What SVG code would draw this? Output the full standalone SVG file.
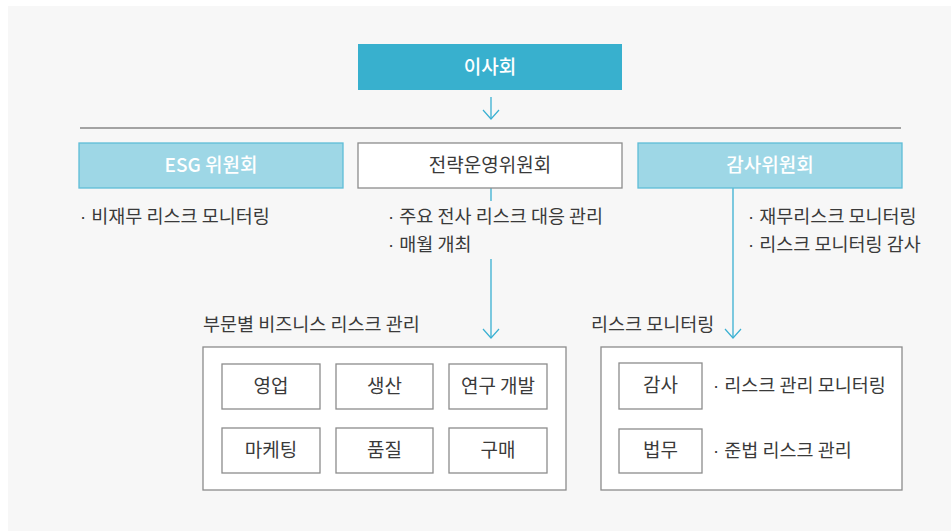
<svg xmlns="http://www.w3.org/2000/svg" width="951" height="531" viewBox="0 0 951 531">
<style>
text{font-family:"Noto Sans CJK KR","Noto Sans",sans-serif;fill:#3a3a3a;font-size:18.5px}
.c{text-anchor:middle;font-size:19px}
.w{fill:#fff;font-weight:500}
.d{font-family:"Liberation Sans",sans-serif}
.box{fill:#fff;stroke:#8c8c8c;stroke-width:1.3}
.blue{fill:#9ed7e6;stroke:#5fbdd8;stroke-width:1.3}
.ln{stroke:#3ab0d2;stroke-width:1.3;fill:none}
</style>
<defs>
<marker id="ah" markerWidth="12" markerHeight="18" refX="10" refY="9" orient="auto" markerUnits="userSpaceOnUse" viewBox="0 0 12 18">
<path d="M1,1 L10,9 L1,17" fill="none" stroke="#3ab0d2" stroke-width="1.2"/>
</marker>
</defs>
<rect x="8" y="6" width="943" height="525" fill="#f7f7f7"/>
<g id="connectors">
<line class="ln" x1="491" y1="97" x2="491" y2="119" marker-end="url(#ah)"/>
<line x1="80" y1="128" x2="901" y2="128" stroke="#a3a3a3" stroke-width="2"/>
<line class="ln" x1="491" y1="188" x2="491" y2="201"/>
<line class="ln" x1="491" y1="259" x2="491" y2="338" marker-end="url(#ah)"/>
<line class="ln" x1="733" y1="188" x2="733" y2="338" marker-end="url(#ah)"/>
</g>
<g id="board">
<rect x="358" y="44" width="264" height="46" fill="#38b0ce"/>
<text class="c w" x="490" y="74">이사회</text>
</g>
<g id="esg">
<rect class="blue" x="79" y="143" width="264" height="45"/>
<text class="c w" x="211" y="172">ESG 위원회</text>
<text x="80" y="223"><tspan class="d">· </tspan>비재무 리스크 모니터링</text>
</g>
<g id="strategy">
<rect class="box" x="358" y="143" width="264" height="45"/>
<text class="c" x="490" y="172">전략운영위원회</text>
<text x="388" y="223"><tspan class="d">· </tspan>주요 전사 리스크 대응 관리</text>
<text x="388" y="251"><tspan class="d">· </tspan>매월 개최</text>
</g>
<g id="audit">
<rect class="blue" x="638" y="143" width="264" height="45"/>
<text class="c w" x="770" y="172">감사위원회</text>
<text x="748" y="223"><tspan class="d">· </tspan>재무리스크 모니터링</text>
<text x="748" y="251"><tspan class="d">· </tspan>리스크 모니터링 감사</text>
</g>
<g id="business">
<text x="203" y="331">부문별 비즈니스 리스크 관리</text>
<rect class="box" x="203" y="347" width="363" height="143"/>
<rect class="box" x="222" y="364" width="98" height="45"/>
<text class="c" x="271" y="393">영업</text>
<rect class="box" x="336" y="364" width="97" height="45"/>
<text class="c" x="384.5" y="393">생산</text>
<rect class="box" x="449" y="364" width="98" height="45"/>
<text class="c" x="498" y="393">연구 개발</text>
<rect class="box" x="222" y="428" width="98" height="45"/>
<text class="c" x="271" y="457">마케팅</text>
<rect class="box" x="336" y="428" width="97" height="45"/>
<text class="c" x="384.5" y="457">품질</text>
<rect class="box" x="449" y="428" width="98" height="45"/>
<text class="c" x="498" y="457">구매</text>
</g>
<g id="monitoring">
<text x="591" y="331">리스크 모니터링</text>
<rect class="box" x="601" y="347" width="301" height="143"/>
<rect class="box" x="619" y="363" width="83" height="46"/>
<text class="c" x="660.5" y="392">감사</text>
<text x="713" y="392"><tspan class="d">· </tspan>리스크 관리 모니터링</text>
<rect class="box" x="619" y="429" width="83" height="44"/>
<text class="c" x="660.5" y="457">법무</text>
<text x="713" y="457"><tspan class="d">· </tspan>준법 리스크 관리</text>
</g>
</svg>
